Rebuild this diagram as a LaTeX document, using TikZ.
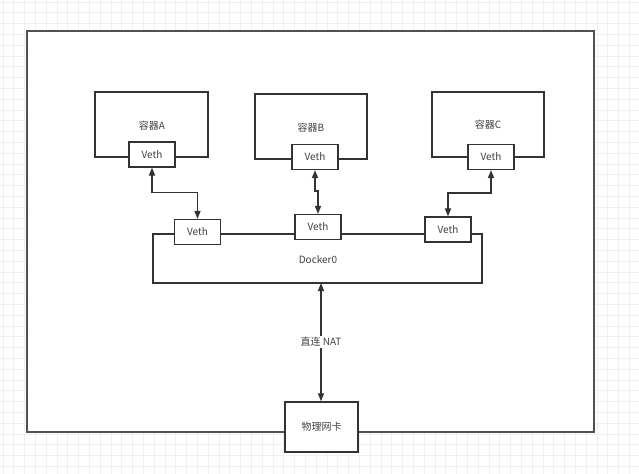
\documentclass[tikz,border=0pt]{standalone}
\usepackage{fontspec}
\setmainfont{Noto Sans CJK SC}
\usetikzlibrary{arrows.meta,calc}
\definecolor{gridc}{HTML}{F0F0F0}
\definecolor{linec}{HTML}{333333}
\definecolor{framec}{HTML}{505050}
\definecolor{textc}{HTML}{404040}
\tikzset{
  box/.style={draw=linec, line width=1.1pt, fill=white, inner sep=0pt},
  vethbox/.style={box, minimum width=34.5pt, minimum height=18.5pt, font=\fontsize{7.5}{9}\selectfont, text=textc},
  lbl/.style={font=\fontsize{7.5}{9}\selectfont, text=textc, inner sep=1pt},
  conn/.style={draw=linec, line width=1pt, {Triangle[length=6pt,width=4.5pt]}-{Triangle[length=6pt,width=4.5pt]}}
}
\begin{document}
\begin{tikzpicture}[x=0.75pt,y=-0.75pt]
\useasboundingbox (0,0) rectangle (639,474);
\fill[white] (0,0) rectangle (639,474);
\foreach \i in {0,...,59} {
  \draw[gridc, line width=0.5pt] ({3+10.8*\i},0) -- ({3+10.8*\i},474);
}
\foreach \j in {0,...,44} {
  \draw[gridc, line width=0.5pt] (0,{2+10.8*\j}) -- (639,{2+10.8*\j});
}
% outer frame
\node[draw=framec, line width=1.5pt, fill=white, minimum width=424.9pt, minimum height=300.75pt, inner sep=0pt] (frame) at (310.75,231.5) {};
% containers
\node[box, minimum width=84.75pt, minimum height=48.75pt] (cA) at (151.5,124.5) {};
\node[box, minimum width=84pt, minimum height=48.75pt] (cB) at (311,126.5) {};
\node[box, minimum width=84pt, minimum height=48.75pt] (cC) at (488,124.5) {};
\node[lbl] (lA) at (152,126) {容器A};
\node[lbl] (lB) at (311,128) {容器B};
\node[lbl] (lC) at (488,125) {容器C};
% docker0
\node[box, minimum width=246.75pt, minimum height=36.75pt] (dk) at (317.5,258.5) {};
\node[lbl] (ldk) at (318,260) {Docker0};
% veths
\node[vethbox] (vA) at (152,154.5) {Veth};
\node[vethbox] (vB) at (315,157) {Veth};
\node[vethbox] (vC) at (491,157) {Veth};
\node[vethbox] (d1) at (197.5,232) {Veth};
\node[vethbox] (d2) at (318,227) {Veth};
\node[vethbox] (d3) at (448,229.5) {Veth};
% nic
\node[box, minimum width=54.75pt, minimum height=37.5pt, font=\fontsize{7.5}{9}\selectfont, text=textc] (nic) at (321.5,427) {物理网卡};
% connectors
\draw[conn] (vA.south) -- ++(0,25) -| (d1.north);
\draw[conn] (vB.south) -- ++(0,21) -| (d2.north);
\draw[conn] (vC.south) -- ++(0,23) -| (d3.north);
\coordinate (top) at (321,283);
\draw[conn] (top) -- (top |- nic.north) node[pos=0.5, lbl, fill=white] {直连 NAT};
\end{tikzpicture}
\end{document}
